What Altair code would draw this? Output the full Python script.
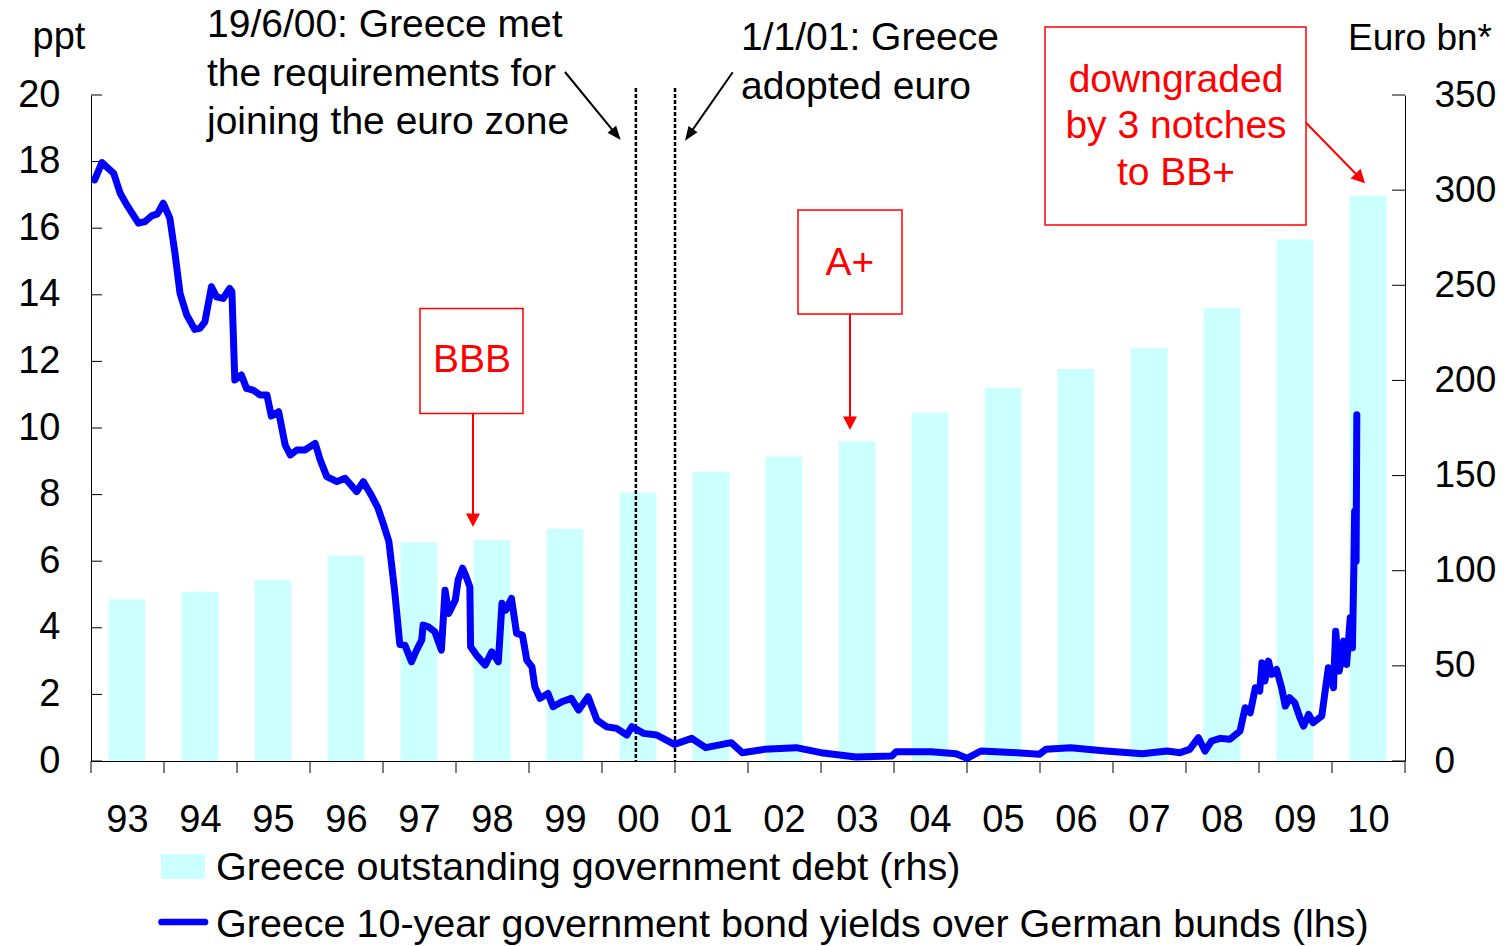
import math
import altair as alt
import pandas as pd

FONT = "Liberation Sans"

# ---------------- data ----------------
years = list(range(1993, 2011))
year_labels = ["93", "94", "95", "96", "97", "98", "99", "00", "01", "02",
               "03", "04", "05", "06", "07", "08", "09", "10"]
debt_bn = [85, 89, 95, 108, 115, 116, 122, 141, 152, 160, 168, 183, 196, 206, 217, 238, 274, 297]

spread_time = [
    1993.05, 1993.15, 1993.31, 1993.40, 1993.49, 1993.65, 1993.74, 1993.83, 1993.91, 1993.99,
    1994.08, 1994.15, 1994.22, 1994.31, 1994.42, 1994.49, 1994.56, 1994.65, 1994.72, 1994.81,
    1994.90, 1994.93, 1994.97, 1995.06, 1995.13, 1995.22, 1995.32, 1995.41, 1995.47, 1995.57,
    1995.66, 1995.73, 1995.82, 1995.93, 1996.07, 1996.14, 1996.23, 1996.37, 1996.48, 1996.64,
    1996.73, 1996.85, 1996.93, 1997.00, 1997.08, 1997.16, 1997.23, 1997.30, 1997.39, 1997.46,
    1997.53, 1997.55, 1997.62, 1997.71, 1997.80, 1997.85, 1997.90, 1997.99, 1998.03, 1998.09,
    1998.14, 1998.19, 1998.20, 1998.28, 1998.40, 1998.49, 1998.58, 1998.63, 1998.68, 1998.76,
    1998.83, 1998.91, 1998.97, 1999.04, 1999.08, 1999.15, 1999.26, 1999.33, 1999.45, 1999.58,
    1999.68, 1999.81, 1999.93, 2000.06, 2000.20, 2000.34, 2000.41, 2000.57, 2000.75, 2000.99,
    2001.23, 2001.42, 2001.77, 2001.92, 2002.22, 2002.66, 2003.00, 2003.48, 2003.97, 2004.03,
    2004.51, 2004.85, 2005.00, 2005.19, 2005.68, 2005.99, 2006.08, 2006.42, 2006.90, 2007.40,
    2007.74, 2007.92, 2008.05, 2008.17, 2008.26, 2008.35, 2008.47, 2008.60, 2008.74, 2008.81,
    2008.88, 2008.95, 2009.01, 2009.04, 2009.08, 2009.13, 2009.17, 2009.24, 2009.31, 2009.36,
    2009.42, 2009.49, 2009.56, 2009.61, 2009.68, 2009.74, 2009.86, 2009.90, 2009.95, 2010.02,
    2010.05, 2010.10, 2010.16, 2010.20, 2010.25, 2010.28, 2010.30, 2010.31, 2010.33, 2010.34,
]
spread_ppt = [
    17.45, 17.97, 17.65, 17.05, 16.70, 16.15, 16.20, 16.37, 16.43, 16.75,
    16.30, 15.25, 14.04, 13.40, 12.96, 12.99, 13.19, 14.24, 13.94, 13.89,
    14.19, 14.10, 11.44, 11.59, 11.19, 11.14, 10.99, 10.99, 10.36, 10.49,
    9.49, 9.19, 9.34, 9.34, 9.54, 9.04, 8.54, 8.39, 8.49, 8.09,
    8.39, 7.94, 7.60, 7.15, 6.60, 5.10, 3.50, 3.48, 2.98, 3.33,
    3.63, 4.08, 4.03, 3.88, 3.33, 5.13, 4.43, 4.83, 5.44, 5.79,
    5.53, 5.23, 3.43, 3.18, 2.88, 3.28, 2.98, 4.74, 4.53, 4.88,
    3.83, 3.78, 3.03, 2.83, 2.23, 1.88, 2.03, 1.63, 1.78, 1.88,
    1.53, 1.93, 1.23, 1.03, 0.98, 0.78, 1.03, 0.83, 0.78, 0.50,
    0.68, 0.40, 0.55, 0.25, 0.35, 0.40, 0.25, 0.12, 0.15, 0.28,
    0.28, 0.22, 0.08, 0.30, 0.25, 0.20, 0.35, 0.40, 0.30, 0.22,
    0.30, 0.25, 0.35, 0.70, 0.30, 0.60, 0.68, 0.65, 0.90, 1.60,
    1.45, 2.20, 2.10, 2.95, 2.40, 3.00, 2.60, 2.75, 2.20, 1.65,
    1.90, 1.75, 1.30, 1.05, 1.40, 1.15, 1.35, 2.00, 2.80, 2.20,
    3.90, 2.70, 3.60, 2.90, 4.30, 3.40, 5.90, 7.50, 6.00, 10.40,
]

left_ticks = list(range(0, 21, 2))
right_ticks = list(range(0, 351, 50))
year_ticks = list(range(1993, 2012))
event_dates = [2000.464, 2001.0]

# ---------------- geometry ----------------
W, H = 1314, 666
BAR_COLOR = "#CCFFFF"
LINE_COLOR = "#0000FF"
RED = "#FF0000"

bars_df = pd.DataFrame({
    "year": years,
    "x0": [y + 0.24 for y in years],
    "x1": [y + 0.745 for y in years],
    "debt": debt_bn,
})
spread_df = pd.DataFrame({"t": spread_time, "v": spread_ppt})
xlab_df = pd.DataFrame({"mid": [y + 0.5 for y in years], "lab": year_labels})
one = pd.DataFrame({"a": [0]})

xscale = alt.Scale(domain=[1993, 2011], nice=False, zero=False)
lscale = alt.Scale(domain=[0, 20], nice=False, zero=True)
rscale = alt.Scale(domain=[0, 350], nice=False, zero=True)

left_axis = alt.Axis(
    orient="left", title=None, values=left_ticks, grid=False,
    labelFont=FONT, labelFontSize=38, labelColor="black", labelPadding=31,
    labelFlush=False, labelOverlap=False, tickSize=0,
    domainColor="black", domainWidth=1,
)
right_axis = alt.Axis(
    orient="right", title=None, values=right_ticks, grid=False,
    labelFont=FONT, labelFontSize=37, labelColor="black", labelPadding=29,
    labelFlush=False, labelOverlap=False, tickSize=0,
    domainColor="black", domainWidth=1,
)

bars = alt.Chart(bars_df).mark_rect(color=BAR_COLOR).encode(
    x=alt.X("x0:Q", scale=xscale, axis=None),
    x2="x1:Q",
    y=alt.Y("debt:Q", scale=rscale, axis=right_axis),
    y2=alt.datum(0),
)

rticks = alt.Chart(pd.DataFrame({"v": right_ticks})).mark_rule(color="black", strokeWidth=1).encode(
    y=alt.Y("v:Q", scale=rscale, axis=None),
    x=alt.value(W - 13), x2=alt.value(W),
)
lticks = alt.Chart(pd.DataFrame({"v": left_ticks})).mark_rule(color="black", strokeWidth=1).encode(
    y=alt.Y("v:Q", scale=lscale, axis=None),
    x=alt.value(0), x2=alt.value(11),
)

# x axis drawn from the year arrays through the x scale
xdomain = alt.Chart(one).mark_rule(color="black", strokeWidth=1).encode(
    x=alt.value(0), x2=alt.value(W), y=alt.value(H + 0.5), y2=alt.value(H + 0.5))
xticks = alt.Chart(pd.DataFrame({"yr": year_ticks})).mark_rule(color="black", strokeWidth=1).encode(
    x=alt.X("yr:Q", scale=xscale, axis=None),
    y=alt.value(H), y2=alt.value(H + 12),
)
xlabels = alt.Chart(xlab_df).mark_text(
    font=FONT, fontSize=38, color="black", baseline="alphabetic", align="center"
).encode(
    x=alt.X("mid:Q", scale=xscale, axis=None),
    y=alt.value(H + 71),
    text="lab:N",
)

line = alt.Chart(spread_df).mark_line(
    color=LINE_COLOR, strokeWidth=7, strokeJoin="round", strokeCap="round"
).encode(
    x=alt.X("t:Q", scale=xscale, axis=None),
    y=alt.Y("v:Q", scale=lscale, axis=left_axis),
)

events = alt.Chart(pd.DataFrame({"d": event_dates})).mark_rule(
    color="black", strokeWidth=2.5, strokeDash=[4, 2]
).encode(
    x=alt.X("d:Q", scale=xscale, axis=None),
    y=alt.value(-7), y2=alt.value(H),
)


def rule(x1, y1, x2, y2, color, width):
    return alt.Chart(one).mark_rule(color=color, strokeWidth=width).encode(
        x=alt.value(x1), y=alt.value(y1), x2=alt.value(x2), y2=alt.value(y2))


HEAD_BLACK = "M0,0L-0.55,-1.4L0.55,-1.4Z"
HEAD_RED = "M0,0L-0.7,-1.35L0.7,-1.35Z"


def arrow(x1, y1, x2, y2, color, width, path):
    dx, dy = x2 - x1, y2 - y1
    ln = math.hypot(dx, dy)
    ang = math.degrees(math.atan2(-dx, dy)) % 360
    ex, ey = x2 - dx / ln * 8, y2 - dy / ln * 8
    shaft = rule(x1, y1, ex, ey, color, width)
    head = alt.Chart(one).mark_point(
        shape=path, filled=True, color=color, size=400, angle=ang, opacity=1, strokeWidth=0
    ).encode(x=alt.value(x2), y=alt.value(y2))
    return [shaft, head]


def label(txt, x, y, color="black", align="left", size=39):
    return alt.Chart(one).mark_text(
        text=txt, align=align, baseline="alphabetic", font=FONT, fontSize=size, color=color
    ).encode(x=alt.value(x), y=alt.value(y))


def box(x1, y1, x2, y2):
    return alt.Chart(one).mark_rect(fill="white", stroke=RED, strokeWidth=1.5).encode(
        x=alt.value(x1), x2=alt.value(x2), y=alt.value(y1), y2=alt.value(y2))


annots = []
annots += arrow(474, -23, 529.7, 45, "black", 2, HEAD_BLACK)
annots += arrow(641.7, -22.7, 594, 45.7, "black", 2, HEAD_BLACK)
annots += arrow(382, 318, 382, 432, RED, 2, HEAD_RED)
annots += arrow(759, 219, 759, 335, RED, 2, HEAD_RED)
annots += arrow(1214, 26.7, 1274, 88.3, RED, 2, HEAD_RED)
annots += [
    box(329, 213.5, 432, 318.5),
    box(707, 115, 811, 219),
    box(954, -68, 1215, 130),
]
annots += [
    label("ppt", -32, -46, align="center", size=38),
    label("Euro bn*", 1257, -45, size=37),
    label("19/6/00: Greece met", 116, -58),
    label("the requirements for", 116, -9),
    label("joining the euro zone", 116, 39),
    label("1/1/01: Greece", 650, -45),
    label("adopted euro", 650, 4),
    label("BBB", 381, 276.5, color=RED, align="center"),
    label("A+", 759, 179.5, color=RED, align="center"),
    label("downgraded", 1085, -3.3, color=RED, align="center"),
    label("by 3 notches", 1085, 43.3, color=RED, align="center"),
    label("to BB+", 1085, 90, color=RED, align="center"),
]

# legend (drawn by hand below the plot)
legend = [
    alt.Chart(one).mark_rect(color=BAR_COLOR).encode(
        x=alt.value(70), x2=alt.value(114), y=alt.value(759), y2=alt.value(784)),
    alt.Chart(one).mark_rule(color=LINE_COLOR, strokeWidth=6.7, strokeCap="round").encode(
        x=alt.value(70.5), x2=alt.value(114), y=alt.value(827), y2=alt.value(827)),
    label("Greece outstanding government debt (rhs)", 125, 784.5, size=39.5),
    label("Greece 10-year government bond yields over German bunds (lhs)", 125, 842, size=39.5),
]

chart = alt.layer(
    bars, rticks, lticks, xdomain, xticks, xlabels, events, line, *annots, *legend
).resolve_scale(y="independent").properties(
    width=W, height=H,
    autosize=alt.AutoSizeParams(type="none"),
    padding={"left": 83, "top": 87, "right": 91, "bottom": 185},
    background="white",
).configure_view(stroke=None)

chart.save("out.html", embed_options={"renderer": "svg", "actions": False})
